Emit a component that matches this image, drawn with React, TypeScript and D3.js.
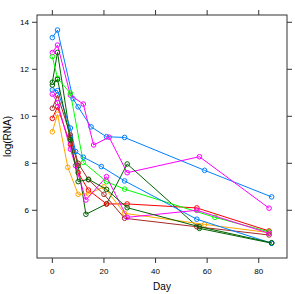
import React from "react";
import * as d3 from "d3";

const colors = ["#0080ff", "#ff00ff", "#006400", "#ff0000", "#ffa500", "#00ff00", "#a52a2a", "#0080ff", "#ff00ff", "#006400"];

const s1: [number, number][] = [[0, 13.35], [2, 13.67], [8, 10.75], [10, 10.4], [15, 9.55], [21, 9.13], [28, 9.1], [59, 7.7], [85, 6.57]];
const s2: [number, number][] = [[0, 12.71], [2, 13.03], [7, 10.9], [12, 10.52], [16, 8.78], [22, 9.11], [29, 7.6], [57, 8.28], [84, 6.09]];
const s3: [number, number][] = [[0, 11.45], [2, 12.72], [7, 9.1], [10, 7.9], [13, 5.83], [21, 6.27], [29, 7.97], [57, 5.23], [85, 4.6]];
const s4: [number, number][] = [[0, 9.91], [2, 10.4], [7, 8.8], [10, 7.6], [14, 6.86], [21, 6.27], [29, 6.27], [56, 6.1], [84, 5.12]];
const s5: [number, number][] = [[0, 9.34], [2, 10.09], [6, 7.83], [10, 6.68], [14, 6.7], [20, 7.0], [28, 5.87], [59, 5.4], [84, 5.05]];
const s6: [number, number][] = [[0, 12.54], [2, 11.62], [7, 10.98], [12, 8.04], [21, 7.22], [28, 6.9], [63, 5.7], [84, 5.08]];
const s7: [number, number][] = [[0, 10.34], [2, 10.9], [7, 9.2], [10, 8.0], [14, 7.3], [20, 6.68], [28, 5.66], [56, 5.3], [84, 4.95]];
const s8: [number, number][] = [[0, 11.12], [2, 11.09], [7, 9.5], [9, 8.5], [12, 8.26], [19, 7.86], [28, 7.25], [56, 5.62], [85, 4.6]];
const s9: [number, number][] = [[0, 10.94], [2, 10.58], [7, 8.6], [9, 7.9], [13, 6.44], [21, 7.43], [29, 5.7], [56, 6.0], [84, 5.02]];
const s10: [number, number][] = [[0, 11.33], [2, 11.57], [7, 9.0], [10, 7.22], [14, 7.32], [21, 6.89], [29, 6.11], [57, 5.3], [85, 4.62]];

const series = [s1, s2, s3, s4, s5, s6, s7, s8, s9, s10];
const xTicks = [0, 20, 40, 60, 80];
const yTicks = [6, 8, 10, 12, 14];

export default function App() {
  const left = 37, right = 287, top = 15, bottom = 258;
  const x = d3.scaleLinear().domain([-5.95, 90.95]).range([left, right]);
  const y = d3.scaleLinear().domain([3.97, 14.31]).range([bottom, top]);
  const line = d3.line<[number, number]>().x(d => x(d[0])).y(d => y(d[1]));
  const font = "'Liberation Sans', Arial, Helvetica, sans-serif";
  return (
    <svg width={295} height={294} style={{ position: "absolute", left: 0, top: 0, background: "#fff" }}>
      <rect x={left} y={top} width={right - left} height={bottom - top} fill="none" stroke="#333" strokeWidth={1} />
      {xTicks.map(t => (
        <g key={"x" + t}>
          <line x1={x(t)} x2={x(t)} y1={bottom} y2={bottom + 5} stroke="#333" />
          <line x1={x(t)} x2={x(t)} y1={top} y2={top - 5} stroke="#333" />
          <text x={x(t)} y={bottom + 16} fontSize={8} textAnchor="middle" fontFamily={font} fill="#000">{t}</text>
        </g>
      ))}
      {yTicks.map(t => (
        <g key={"y" + t}>
          <line x1={left} x2={left - 5} y1={y(t)} y2={y(t)} stroke="#333" />
          <line x1={right} x2={right + 5} y1={y(t)} y2={y(t)} stroke="#333" />
          <text x={left - 8} y={y(t) + 3} fontSize={8} textAnchor="end" fontFamily={font} fill="#000">{t}</text>
        </g>
      ))}
      <text x={(left + right) / 2} y={290} fontSize={10} textAnchor="middle" fontFamily={font} fill="#000">Day</text>
      <text transform={`translate(11,${(top + bottom) / 2}) rotate(-90)`} fontSize={10} textAnchor="middle" fontFamily={font} fill="#000">log(RNA)</text>
      {series.map((s, i) => (
        <g key={i}>
          <path d={line(s) || ""} fill="none" stroke={colors[i]} strokeWidth={1} />
          {s.map((p, j) => (
            <circle key={j} cx={x(p[0])} cy={y(p[1])} r={2.3} fill="none" stroke={colors[i]} strokeWidth={1} />
          ))}
        </g>
      ))}
    </svg>
  );
}
